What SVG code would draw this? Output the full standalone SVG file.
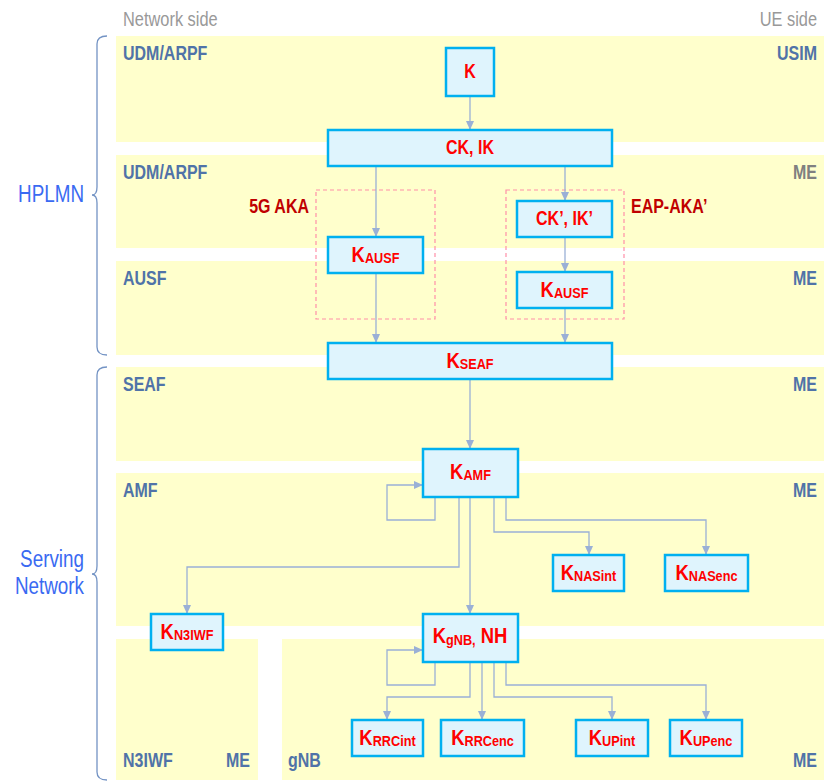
<svg xmlns="http://www.w3.org/2000/svg" width="825" height="781" viewBox="0 0 825 781">
<style>
text{font-family:"Liberation Sans",Arial,sans-serif}
.band{fill:#FFFFCC}
.bl{font-size:19.5px;font-weight:bold;fill:#5073A8}
.bg{font-size:19.5px;font-weight:bold;fill:#808080}
.side{font-size:20px;fill:#999999}
.grp{font-size:23px;fill:#3A6AF2}
.brace{fill:none;stroke:#7393C4;stroke-width:1.3}
.node{fill:#DFF4FD;stroke:#00B0F0;stroke-width:2.5}
.nt{font-size:22.5px;font-weight:bold;fill:#FF0000;text-anchor:middle}
.nt2{font-size:19.5px;font-weight:bold;fill:#FF0000;text-anchor:middle}
.sub{font-size:15.5px}
.dash{fill:none;stroke:#FF8FA8;stroke-width:1.2;stroke-dasharray:4 3}
.alg{font-size:19.5px;font-weight:bold;fill:#C00000}
.conn path{fill:none;stroke:#9AB0D6;stroke-width:1.3;marker-end:url(#ah)}
</style>
<defs>
<marker id="ah" markerUnits="userSpaceOnUse" markerWidth="9" markerHeight="8" refX="9" refY="4" orient="auto"><path d="M0,0 L9,4 L0,8 z" fill="#9AB0D6"/></marker>
</defs>
<g id="bands">
<rect class="band" x="116" y="36" width="708" height="106"/>
<rect class="band" x="116" y="155" width="708" height="93"/>
<rect class="band" x="116" y="261" width="708" height="94"/>
<rect class="band" x="116" y="367" width="708" height="94"/>
<rect class="band" x="116" y="473" width="708" height="153"/>
<rect class="band" x="116" y="639" width="142" height="141"/>
<rect class="band" x="282" y="639" width="542" height="141"/>
</g>
<g id="labels">
<text class="side" transform="translate(123 26) scale(.82 1)">Network side</text>
<text class="side" transform="translate(817 26) scale(.82 1)" text-anchor="end">UE side</text>
<text class="bl" transform="translate(123 60) scale(.82 1)">UDM/ARPF</text>
<text class="bl" transform="translate(817 60) scale(.82 1)" text-anchor="end">USIM</text>
<text class="bl" transform="translate(123 179) scale(.82 1)">UDM/ARPF</text>
<text class="bg" transform="translate(817 179) scale(.82 1)" text-anchor="end">ME</text>
<text class="bl" transform="translate(123 285) scale(.82 1)">AUSF</text>
<text class="bl" transform="translate(817 285) scale(.82 1)" text-anchor="end">ME</text>
<text class="bl" transform="translate(123 391) scale(.82 1)">SEAF</text>
<text class="bl" transform="translate(817 391) scale(.82 1)" text-anchor="end">ME</text>
<text class="bl" transform="translate(123 497) scale(.82 1)">AMF</text>
<text class="bl" transform="translate(817 497) scale(.82 1)" text-anchor="end">ME</text>
<text class="bl" transform="translate(123 767) scale(.82 1)">N3IWF</text>
<text class="bl" transform="translate(250 767) scale(.82 1)" text-anchor="end">ME</text>
<text class="bl" transform="translate(288 767) scale(.82 1)">gNB</text>
<text class="bl" transform="translate(817 767) scale(.82 1)" text-anchor="end">ME</text>
<text class="grp" transform="translate(84 202) scale(.82 1)" text-anchor="end">HPLMN</text>
<text class="grp" transform="translate(84 567) scale(.82 1)" text-anchor="end">Serving</text>
<text class="grp" transform="translate(84 594) scale(.82 1)" text-anchor="end">Network</text>
<path class="brace" d="M107,36 Q97,36 97,44 V187 Q97,195 92,195 Q97,195 97,203 V347 Q97,355 107,355"/>
<path class="brace" d="M107,367 Q97,367 97,375 V566 Q97,574 92,574 Q97,574 97,582 V772 Q97,780 107,780"/>
</g>
<g id="algorithms">
<rect class="dash" x="316" y="190" width="119" height="129"/>
<text class="alg" transform="translate(309 213) scale(.82 1)" text-anchor="end">5G AKA</text>
<rect class="dash" x="506" y="190" width="118" height="129"/>
<text class="alg" transform="translate(631 213) scale(.82 1)">EAP-AKA’</text>
</g>
<g class="conn" id="connectors">
<path d="M470,96 V130"/>
<path d="M376,167 V237"/>
<path d="M565,167 V201"/>
<path d="M565,237 V272"/>
<path d="M376,273 V343"/>
<path d="M565,308 V343"/>
<path d="M470,379 V449"/>
<path d="M435,497 V520 H387 V485 H423"/>
<path d="M459,497 V567 H187 V614"/>
<path d="M470,497 V614"/>
<path d="M494,497 V532 H589 V555"/>
<path d="M506,497 V520 H706 V555"/>
<path d="M435,662 V685 H387 V650 H423"/>
<path d="M470,662 V697 H387 V720"/>
<path d="M482,662 V720"/>
<path d="M494,662 V697 H612 V720"/>
<path d="M506,662 V685 H706 V720"/>
</g>
<g id="n-k"><rect class="node" x="446" y="48" width="48" height="48"/><text class="nt2" transform="translate(470 78) scale(.82 1)">K</text></g>
<g id="n-ckik"><rect class="node" x="328" y="130" width="284" height="36"/><text class="nt2" transform="translate(470 154) scale(.82 1)">CK, IK</text></g>
<g id="n-kausf-5g"><rect class="node" x="328" y="237" width="95" height="36"/><text class="nt" transform="translate(375.5 262) scale(.82 1)">K<tspan class="sub" dy="1">AUSF</tspan></text></g>
<g id="n-ckikp"><rect class="node" x="517" y="201" width="95" height="36"/><text class="nt2" transform="translate(564.5 225) scale(.82 1)">CK’, IK’</text></g>
<g id="n-kausf-eap"><rect class="node" x="517" y="272" width="95" height="36"/><text class="nt" transform="translate(564.5 297) scale(.82 1)">K<tspan class="sub" dy="1">AUSF</tspan></text></g>
<g id="n-kseaf"><rect class="node" x="328" y="343" width="284" height="36"/><text class="nt" transform="translate(470 368) scale(.82 1)">K<tspan class="sub" dy="1">SEAF</tspan></text></g>
<g id="n-kamf"><rect class="node" x="423" y="449" width="95" height="48"/><text class="nt" transform="translate(470.5 479) scale(.82 1)">K<tspan class="sub" dy="1">AMF</tspan></text></g>
<g id="n-kn3iwf"><rect class="node" x="151" y="614" width="72" height="36"/><text class="nt" transform="translate(187 639) scale(.82 1)">K<tspan class="sub" dy="1">N3IWF</tspan></text></g>
<g id="n-knasint"><rect class="node" x="553" y="555" width="71" height="36"/><text class="nt" transform="translate(588.5 580) scale(.82 1)">K<tspan class="sub" dy="1">NASint</tspan></text></g>
<g id="n-knasenc"><rect class="node" x="665" y="555" width="83" height="36"/><text class="nt" transform="translate(706.5 580) scale(.82 1)">K<tspan class="sub" dy="1">NASenc</tspan></text></g>
<g id="n-kgnb"><rect class="node" x="423" y="614" width="95" height="48"/><text class="nt" transform="translate(470 643) scale(.82 1)">K<tspan class="sub" dy="2">gNB,</tspan><tspan dy="-2"> NH</tspan></text></g>
<g id="n-krrcint"><rect class="node" x="352" y="720" width="71" height="36"/><text class="nt" transform="translate(387.5 745) scale(.82 1)">K<tspan class="sub" dy="1">RRCint</tspan></text></g>
<g id="n-krrcenc"><rect class="node" x="441" y="720" width="83" height="36"/><text class="nt" transform="translate(482.5 745) scale(.82 1)">K<tspan class="sub" dy="1">RRCenc</tspan></text></g>
<g id="n-kupint"><rect class="node" x="576" y="720" width="72" height="36"/><text class="nt" transform="translate(612 745) scale(.82 1)">K<tspan class="sub" dy="1">UPint</tspan></text></g>
<g id="n-kupenc"><rect class="node" x="670" y="720" width="72" height="36"/><text class="nt" transform="translate(706 745) scale(.82 1)">K<tspan class="sub" dy="1">UPenc</tspan></text></g>
</svg>
